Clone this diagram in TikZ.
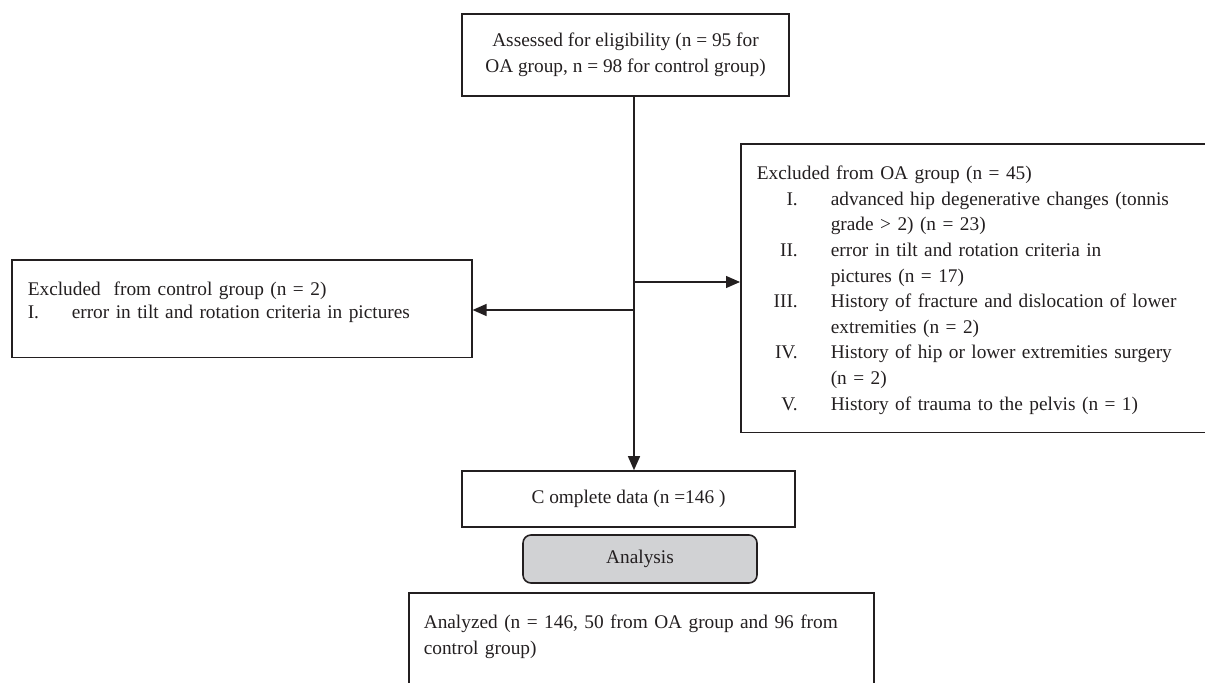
\documentclass[tikz,border=0pt]{standalone}
\usepackage{fontspec}
\setmainfont{Liberation Serif}
\usetikzlibrary{arrows.meta, positioning}

\definecolor{ink}{HTML}{231F20}
\definecolor{boxgray}{HTML}{D1D2D4}

\tikzset{
  flowbox/.style={draw=ink, line width=0.9pt, text=ink, align=left,
    inner xsep=0.32cm, inner ysep=0.44cm, font=\fontsize{11}{14.6}\selectfont},
  flowline/.style={draw=ink, line width=0.75pt, -{Triangle[length=0.28cm,width=0.24cm]}},
}
\newcommand{\oaitem}[1]{\makebox[0.82cm][r]{#1}\hspace{0.66cm}}
\newcommand{\oacont}{\hspace*{1.48cm}}

\begin{document}
\begin{tikzpicture}
    \useasboundingbox (0,0) rectangle (24.1,-13.66);

    % Eligibility
    \node[flowbox, inner ysep=0pt, align=center, minimum width=6.54cm, minimum height=1.64cm] (assess) at (12.51,-1.1)
        {Assessed for eligibility (n = 95 for\\OA group, n = 98 for control group)};

    % Exclusions
    \node[flowbox, anchor=north west, text width=8.56cm, text depth=0.8cm] (ctrl) at (0.22,-5.18)
        {Excluded~ from control group (n = 2)\\[-1.6pt]
         \makebox[0.88cm][l]{I.}error in tilt and rotation criteria in pictures};
    \node[flowbox, anchor=north west, text width=9.2cm, text depth=4.62cm] (oa) at (14.8,-2.86)
        {Excluded from OA group (n = 45)\\
         \oaitem{I.}advanced hip degenerative changes (tonnis\\
         \oacont grade > 2) (n = 23)\\
         \oaitem{II.}error in tilt and rotation criteria in\\
         \oacont pictures (n = 17)\\
         \oaitem{III.}History of fracture and dislocation of lower\\
         \oacont extremities (n = 2)\\
         \oaitem{IV.}History of hip or lower extremities surgery\\
         \oacont (n = 2)\\
         \oaitem{V.}History of trauma to the pelvis (n = 1)};

    % Data and analysis
    \node[flowbox, inner ysep=0pt, align=center, minimum width=6.66cm, minimum height=1.12cm] (complete) at (12.57,-9.98)
        {C omplete data (n =146 )};
    \node[flowbox, inner ysep=0pt, align=center, fill=boxgray, rounded corners=0.16cm,
        minimum width=4.68cm, minimum height=0.96cm] (analysis) at (12.8,-11.18) {Analysis};
    \node[flowbox, anchor=north west, inner xsep=0.3cm, text width=8.7cm, text depth=2cm] (analyzed) at (8.16,-11.84)
        {Analyzed (n = 146, 50 from OA group and 96 from\\control group)};

    % Flow arrows
    \coordinate (trunk) at (12.68,0);
    \coordinate (jr) at (12.68,-5.64);
    \coordinate (jl) at (12.68,-6.2);
    \draw[flowline] (assess.south -| trunk) -- (complete.north -| trunk);
    \draw[flowline] (jr) -- (jr -| oa.west);
    \draw[flowline] (jl) -- (jl -| ctrl.east);
\end{tikzpicture}
\end{document}
